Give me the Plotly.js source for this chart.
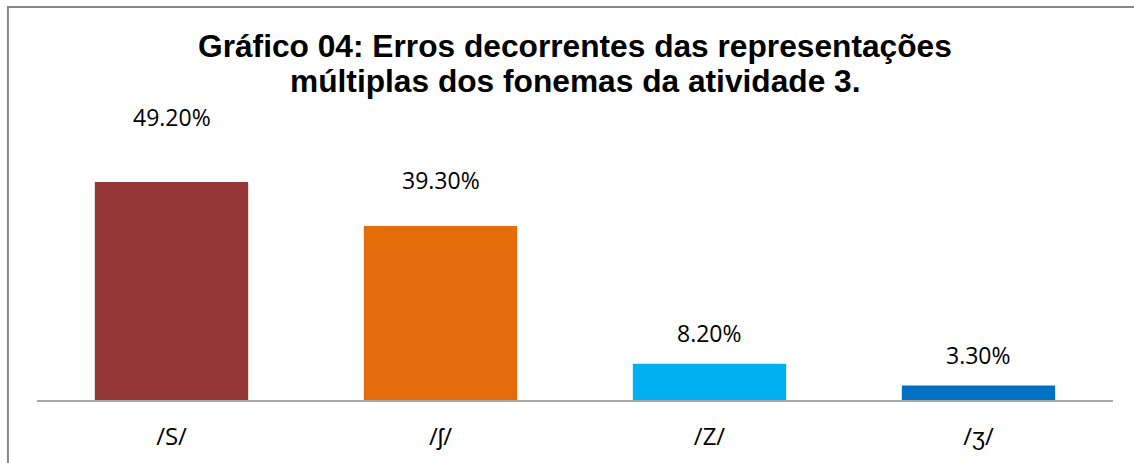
<!DOCTYPE html>
<html>
<head>
<meta charset="utf-8">
<script src="https://cdn.plot.ly/plotly-3.0.1.min.js"></script>
<style>html,body{margin:0;padding:0;background:#fff;overflow:hidden;}#chart{width:1134px;height:463px;}</style>
</head>
<body>
<div id="chart"></div>
<script>
const categories = ['/S/', '/ʃ/', '/Z/', '/ʒ/'];
const values = [49.2, 39.3, 8.2, 3.3];
const labels = ['49.20%', '39.30%', '8.20%', '3.30%'];
const barColors = ['#953735', '#E46C0A', '#00B0F0', '#0070C0'];
const labelOffsets = [65, 46, 31, 30];
const titleLines = ['<b>Gráfico 04: Erros decorrentes das representações</b>', '<b>múltiplas dos fonemas da atividade 3.</b>'];
const titleLineY = [1.1435, 1.0306];

const trace = {
  type: 'bar',
  x: categories,
  y: values,
  marker: {color: barColors},
  hoverinfo: 'none'
};

const annotations = categories.map((c, i) => ({
  x: c, y: values[i], xref: 'x', yref: 'y',
  text: labels[i], showarrow: false,
  yanchor: 'middle', yshift: labelOffsets[i],
  font: {family: 'Open Sans, sans-serif', size: 23, color: '#000'}
}));

titleLines.forEach((t, i) => annotations.push({
  xref: 'paper', yref: 'paper', x: 0.5, y: titleLineY[i],
  xanchor: 'center', yanchor: 'middle', showarrow: false,
  text: t,
  font: {family: 'Liberation Sans, Arial, sans-serif', size: 31.7, color: '#000'}
}));

const layout = {
  width: 1134, height: 463,
  margin: {l: 37, r: 21, t: 90, b: 63},
  paper_bgcolor: '#fff', plot_bgcolor: '#fff',
  showlegend: false,
  bargap: 0.43,
  xaxis: {
    showline: true, linecolor: '#a6a6a6', linewidth: 2,
    ticks: '', showgrid: false, zeroline: false,
    ticklabelstandoff: 14,
    tickfont: {family: 'Open Sans, sans-serif', size: 24, color: '#000'},
    fixedrange: true
  },
  yaxis: {
    range: [0, 70], visible: false, showgrid: false, zeroline: false, fixedrange: true
  },
  annotations: annotations,
  shapes: [
    {type: 'path', xref: 'paper', yref: 'paper',
     path: 'M -0.027,-0.4 L -0.027,1.268 L 1.05,1.268',
     line: {color: '#868686', width: 2}}
  ]
};

Plotly.newPlot('chart', [trace], layout, {displayModeBar: false, staticPlot: true});
</script>
</body>
</html>
